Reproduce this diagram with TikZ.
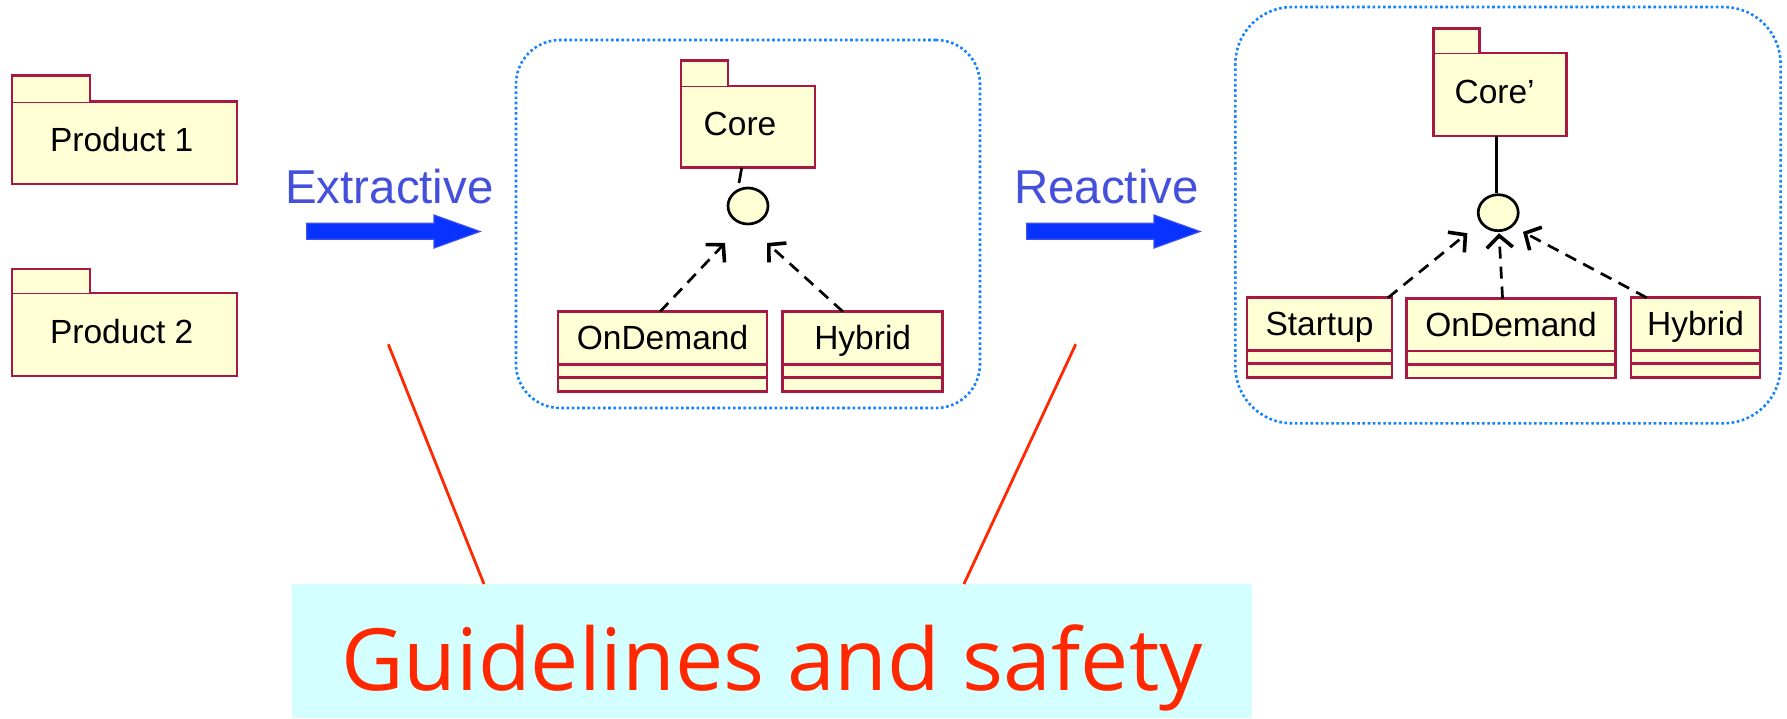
\documentclass[tikz,border=0pt]{standalone}
\usepackage{fontspec}
\setmainfont{Liberation Sans}
\newfontfamily\guidefont{Open Sans}
\usetikzlibrary{arrows.meta,shapes.geometric,calc}
\definecolor{umlred}{RGB}{168,24,66}
\definecolor{umlfill}{RGB}{255,255,214}
\definecolor{dotblue}{RGB}{20,130,255}
\definecolor{arrowblue}{RGB}{8,50,255}
\definecolor{arrowedge}{RGB}{60,80,235}
\definecolor{labelblue}{RGB}{68,80,220}
\definecolor{guidered}{RGB}{255,40,0}
\definecolor{guidebg}{RGB}{212,255,255}
\tikzset{
 umlbox/.style={draw=umlred, fill=umlfill, line width=2.7pt, inner sep=0pt, outer sep=0pt, font=\fontsize{33.5}{40}\selectfont, text height=24pt, text depth=0pt},
 pkgbox/.style={umlbox, text depth=6pt},
 umlline/.style={draw=umlred, line width=2.7pt},
 iface/.style={draw=black, fill=umlfill, ellipse, line width=2.7pt, inner sep=0pt, outer sep=0pt, minimum width=40pt, minimum height=36pt},
 assoc/.style={draw=black, line width=2.7pt},
 dep/.style={draw=black, line width=2.7pt, dash pattern=on 12pt off 8pt, -{Straight Barb[length=12pt, width=26pt, line width=3.6pt]}},
 group/.style={draw=dotblue, line width=2.6pt, dash pattern=on 2.6pt off 2.6pt, inner sep=0pt, outer sep=0pt, anchor=north west},
 bigarrow/.style={fill=arrowblue, draw=arrowedge, line width=1.2pt},
 steplabel/.style={text=labelblue, font=\fontsize{47.5}{56}\selectfont, inner sep=0pt, anchor=base},
 redline/.style={draw=guidered, line width=2.8pt},
}
\newcommand\umlclass[5]{%
 \node[umlbox, anchor=north west, minimum width={(#4)-(#2)}, minimum height=52.5pt] (#1) at (#2,#3) {#5};
 \draw[umlline, fill=umlfill] (#1.south west) rectangle ($(#1.south east)+(0,27)$);
 \draw[umlline] ($(#1.south west)+(0,13.5)$) -- ($(#1.south east)+(0,13.5)$);
}
\newcommand\umlpkg[8]{%
 \node[pkgbox, anchor=north west, minimum width={(#6)-(#2)}, minimum height={(#7)-(#4)}] (#1) at (#2,#4) {#8};
 \fill[umlfill] (#2,#4) rectangle (#5,#3);
 \draw[umlline] (#2,#4) -- (#2,#3) -- (#5,#3) -- (#5,#4);
}
\begin{document}
\begin{tikzpicture}[x=1pt,y=-1pt]
\useasboundingbox (0,0) rectangle (1787,718);
% groups
\node[group, rounded corners=44pt, minimum width=464pt, minimum height=368pt] (g1) at (516,40) {};
\node[group, rounded corners=57pt, minimum width=545.3pt, minimum height=416.3pt] (g2) at (1235.3,7) {};
% products
\umlpkg{p1}{12}{75.7}{101.7}{90}{237}{184}{Product 1\hspace*{5.6pt}}
\umlpkg{p2}{12}{269}{293}{90}{237}{376}{Product 2\hspace*{5.6pt}}
% middle
\umlpkg{core}{681}{60.7}{86}{728}{815}{167.7}{Core\hspace*{16pt}}
\node[iface] (i1) at (748,206) {};
\umlclass{od}{558}{311.7}{767}{OnDemand}
\umlclass{hy}{782.7}{311.7}{942.7}{Hybrid}
\draw[assoc] ([xshift=-6.3pt]core.south) -- ([xshift=-9pt,yshift=5pt]i1.north);
\draw[dep] ([xshift=-2.5pt]od.north) -- ([xshift=-23pt,yshift=-19pt]i1.south);
\draw[dep] ([xshift=-19.7pt]hy.north) -- ([xshift=19pt,yshift=-19pt]i1.south);
% right
\umlpkg{corep}{1433.2}{28.7}{53}{1479.7}{1566.8}{136}{Core’\hspace*{10.8pt}}
\node[iface] (i2) at (1498.2,212.7) {};
\umlclass{st}{1247}{297.7}{1392}{Startup}
\umlclass{odp}{1406.7}{298.5}{1615.4}{OnDemand}
\umlclass{hyp}{1631}{297.7}{1760}{Hybrid}
\draw[assoc] ([xshift=-3.6pt]corep.south) -- ([xshift=-1.8pt,yshift=1.5pt]i2.north);
\draw[dep] ([xshift=-4pt]st.north east) -- ([xshift=-30.9pt,yshift=-2.5pt]i2.south);
\draw[dep] ([xshift=-8.5pt]odp.north) -- ([xshift=0.8pt,yshift=-2.5pt]i2.south);
\draw[dep] ([xshift=15.7pt]hyp.north west) -- ([xshift=24.8pt,yshift=-1.2pt]i2.south);
% big arrows and labels
\path[bigarrow] (306.7,223.3) -- (434,223.3) -- (434,215) -- (480,231.5) -- (434,248) -- (434,239.3) -- (306.7,239.3) -- cycle;
\path[bigarrow] (1026.7,223.3) -- (1154,223.3) -- (1154,215) -- (1200,231.5) -- (1154,248) -- (1154,239.3) -- (1026.7,239.3) -- cycle;
\node[steplabel] (ext) at (389.4,203.3) {Extractive};
\node[steplabel] (rea) at (1106.5,203.3) {Reactive};
% guidelines
\node[fill=guidebg, anchor=north west, minimum width=959.7pt, minimum height=134pt, inner sep=0pt, outer sep=0pt] (guide) at (292,584) {};
\node[text=guidered, font=\guidefont\fontsize{86}{100}\selectfont, anchor=base, inner sep=0pt] (gtext) at (771.9,690) {Guidelines and safety};
\coordinate (r1) at (388.3,344.3);
\coordinate (r2) at (1075.7,344.3);
\draw[redline] (r1) -- ([xshift=-287.9pt]guide.north);
\draw[redline] (r2) -- ([xshift=192.1pt]guide.north);
\end{tikzpicture}
\end{document}
